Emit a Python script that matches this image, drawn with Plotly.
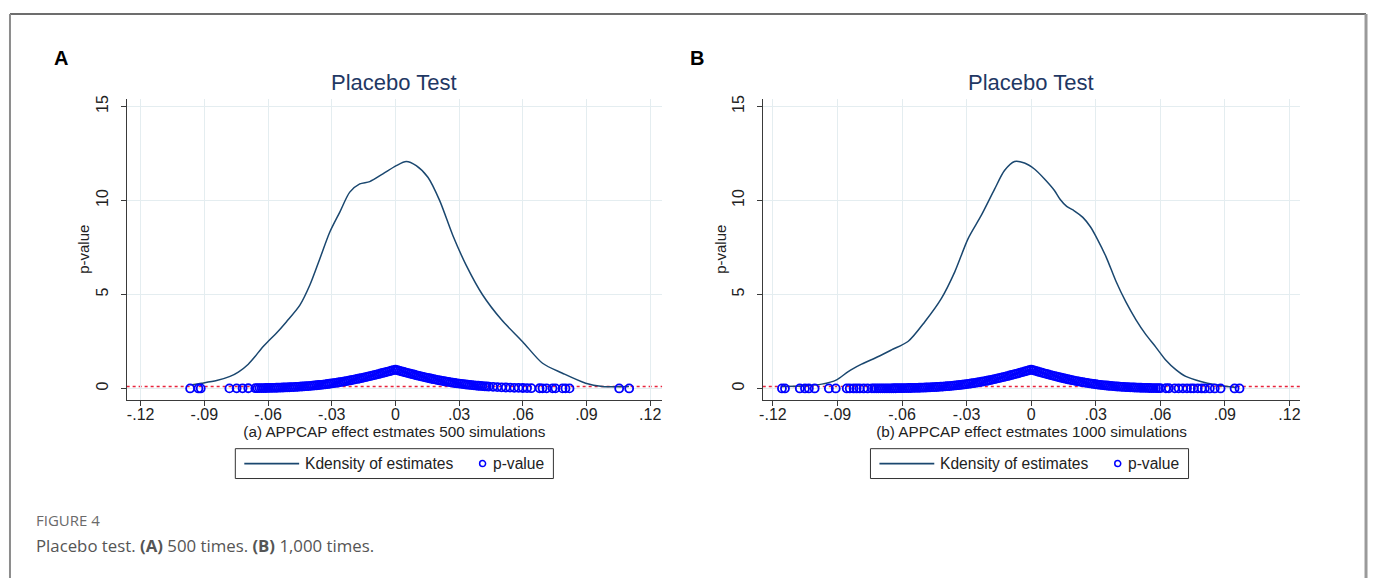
import plotly.graph_objects as go

W, H = 1373, 578

# ---- kernel density of placebo estimates ----
kd_x_a = [-0.0967, -0.0912, -0.0842, -0.0779, -0.0740, -0.0693, -0.0661, -0.0630,
          -0.0600, -0.0560, -0.0513, -0.0450, -0.0403, -0.0356, -0.0309, -0.0262,
          -0.0215, -0.0168, -0.0121, -0.0059, 0.0004, 0.0051, 0.0098, 0.0153,
          0.0208, 0.0270, 0.0333, 0.0411, 0.0500, 0.0599, 0.0693, 0.0787,
          0.0896, 0.0975, 0.1100]
kd_y_a = [0.19, 0.28, 0.42, 0.64, 0.87, 1.29, 1.70, 2.14,
          2.50, 2.95, 3.55, 4.43, 5.50, 6.90, 8.32, 9.38,
          10.44, 10.88, 11.00, 11.41, 11.85, 12.07, 11.85, 11.23,
          10.00, 8.15, 6.56, 4.97, 3.65, 2.49, 1.34, 0.81,
          0.28, 0.11, 0.10]

kd_x_b = [-0.1158, -0.1050, -0.0973, -0.0904, -0.0850, -0.0788, -0.0710, -0.0649,
          -0.0571, -0.0494, -0.0417, -0.0355, -0.0293, -0.0232, -0.0170, -0.0124,
          -0.0077, -0.0031, 0.0015, 0.0062, 0.0108, 0.0135, 0.0165, 0.0200,
          0.0240, 0.0275, 0.0305, 0.0348, 0.0394, 0.0440, 0.0487, 0.0533,
          0.0579, 0.0626, 0.0672, 0.0718, 0.0788, 0.0857, 0.0955]
kd_y_b = [0.10, 0.14, 0.23, 0.46, 0.90, 1.29, 1.70, 2.05,
          2.51, 3.55, 4.79, 6.20, 7.97, 9.20, 10.60, 11.59,
          12.07, 11.99, 11.67, 11.14, 10.53, 10.05, 9.68, 9.45,
          9.10, 8.60, 8.00, 7.00, 5.70, 4.60, 3.65, 2.86,
          2.20, 1.50, 1.00, 0.64, 0.37, 0.20, 0.05]

# ---- placebo estimates and their p-values: (a) 500 simulations ----
est_a = [
    -0.0967, -0.0928, -0.0917, -0.0782, -0.0748, -0.0720, -0.0693,
    -0.066, -0.065, -0.064, -0.063, -0.062, -0.061, -0.060, -0.059, -0.058, -0.057,
    -0.056, -0.055, -0.054, -0.053, -0.052, -0.051, -0.050, -0.049, -0.048, -0.047,
    -0.046, -0.045, -0.044, -0.043, -0.042, -0.041, -0.040, -0.039, -0.038, -0.037,
    -0.036, -0.035, -0.034, -0.033, -0.032, -0.031, -0.030, -0.029, -0.028, -0.027,
    -0.026, -0.025, -0.024, -0.023, -0.022, -0.021, -0.020, -0.019, -0.018, -0.017,
    -0.016, -0.015, -0.014, -0.013, -0.012, -0.011, -0.010, -0.009, -0.008, -0.007,
    -0.006, -0.005, -0.004, -0.003, -0.002, -0.001, 0.000,
    0.001, 0.002, 0.003, 0.004, 0.005, 0.006, 0.007, 0.008, 0.009, 0.010,
    0.011, 0.012, 0.013, 0.014, 0.015, 0.016, 0.017, 0.018, 0.019, 0.020,
    0.021, 0.022, 0.023, 0.024, 0.025, 0.026, 0.027, 0.028, 0.029, 0.030,
    0.031, 0.032, 0.033, 0.034, 0.035, 0.036, 0.037, 0.038, 0.039, 0.040,
    0.041, 0.042, 0.043, 0.044,
    0.046, 0.048, 0.050, 0.052, 0.054, 0.056, 0.058, 0.060, 0.062, 0.064,
    0.0679, 0.0693, 0.0712, 0.0740, 0.0754, 0.0787, 0.0801, 0.0820, 0.1054, 0.1101]
pval_a = [
    0.0002, 0.0005, 0.0006, 0.004, 0.006, 0.007, 0.010,
    0.015, 0.016, 0.018, 0.020, 0.022, 0.024, 0.026, 0.029, 0.032, 0.035,
    0.038, 0.042, 0.046, 0.050, 0.054, 0.059, 0.064, 0.070, 0.075, 0.082,
    0.088, 0.096, 0.103, 0.111, 0.120, 0.129, 0.139, 0.149, 0.159, 0.171,
    0.183, 0.195, 0.208, 0.222, 0.236, 0.251, 0.266, 0.283, 0.300, 0.317,
    0.336, 0.354, 0.374, 0.394, 0.415, 0.437, 0.459, 0.482, 0.505, 0.529,
    0.553, 0.578, 0.604, 0.630, 0.657, 0.684, 0.711, 0.739, 0.767, 0.795,
    0.824, 0.853, 0.882, 0.912, 0.941, 0.970, 1.000,
    0.968, 0.937, 0.906, 0.875, 0.845, 0.815, 0.786, 0.757, 0.728, 0.700,
    0.672, 0.645, 0.618, 0.592, 0.567, 0.542, 0.517, 0.494, 0.470, 0.448,
    0.426, 0.404, 0.384, 0.364, 0.345, 0.326, 0.308, 0.291, 0.275, 0.259,
    0.244, 0.229, 0.215, 0.202, 0.189, 0.177, 0.165, 0.154, 0.144, 0.134,
    0.125, 0.116, 0.107, 0.099,
    0.085, 0.072, 0.061, 0.051, 0.043, 0.036, 0.030, 0.024, 0.020, 0.016,
    0.010, 0.009, 0.008, 0.006, 0.005, 0.004, 0.003, 0.003, 0.0003, 0.0002]

# ---- placebo estimates and their p-values: (b) 1000 simulations ----
est_b = [
    -0.1158, -0.1144, -0.1075, -0.1051, -0.1033, -0.1006, -0.0940, -0.0908,
    -0.0857, -0.0843, -0.0825, -0.0811, -0.0797, -0.0778, -0.0760,
    -0.074, -0.073, -0.072, -0.071, -0.070, -0.069, -0.068, -0.067, -0.066, -0.065,
    -0.064, -0.063, -0.062, -0.061, -0.060, -0.059, -0.058, -0.057, -0.056, -0.055,
    -0.054, -0.053, -0.052, -0.051, -0.050, -0.049, -0.048, -0.047, -0.046, -0.045,
    -0.044, -0.043, -0.042, -0.041, -0.040, -0.039, -0.038, -0.037, -0.036, -0.035,
    -0.034, -0.033,
    -0.032, -0.031, -0.030, -0.029, -0.028, -0.027, -0.026, -0.025, -0.024, -0.023,
    -0.022, -0.021, -0.020, -0.019, -0.018, -0.017, -0.016, -0.015, -0.014, -0.013,
    -0.012, -0.011, -0.010, -0.009, -0.008, -0.007, -0.006, -0.005, -0.004, -0.003,
    -0.002, -0.001, 0.000,
    0.001, 0.002, 0.003, 0.004, 0.005, 0.006, 0.007, 0.008, 0.009, 0.010,
    0.011, 0.012, 0.013, 0.014, 0.015, 0.016, 0.017, 0.018, 0.019, 0.020,
    0.021, 0.022, 0.023, 0.024, 0.025, 0.026, 0.027, 0.028, 0.029, 0.030,
    0.031, 0.032,
    0.033, 0.034, 0.035, 0.036, 0.037, 0.038, 0.039, 0.040, 0.041, 0.042,
    0.043, 0.044, 0.045, 0.046, 0.047, 0.048, 0.049, 0.050, 0.051, 0.052,
    0.053, 0.054, 0.055, 0.056, 0.057, 0.058, 0.059, 0.060,
    0.0626, 0.0640, 0.0667, 0.0685, 0.0705, 0.0724, 0.0742, 0.0755,
    0.0774, 0.0792, 0.0807, 0.0830, 0.0853, 0.0880, 0.0945, 0.0968]
pval_b = [
    0.0000, 0.0000, 0.0000, 0.0000, 0.0001, 0.0001, 0.0002, 0.0003,
    0.0006, 0.0007, 0.0010, 0.0012, 0.0014, 0.0018, 0.0024,
    0.003, 0.0035, 0.004, 0.0045, 0.005, 0.006, 0.0065, 0.007, 0.008, 0.009,
    0.010, 0.012, 0.013, 0.015, 0.016, 0.018, 0.020, 0.023, 0.025, 0.028,
    0.031, 0.034, 0.038, 0.041, 0.046, 0.050, 0.055, 0.060, 0.066, 0.072,
    0.078, 0.085, 0.093, 0.101, 0.110, 0.119, 0.129, 0.139, 0.150, 0.162,
    0.174, 0.187,
    0.201, 0.215, 0.230, 0.246, 0.263, 0.280, 0.298, 0.317, 0.337, 0.358,
    0.379, 0.401, 0.424, 0.447, 0.472, 0.497, 0.522, 0.549, 0.575, 0.603,
    0.631, 0.660, 0.689, 0.719, 0.749, 0.779, 0.810, 0.841, 0.873, 0.904,
    0.936, 0.968, 1.000,
    0.967, 0.935, 0.902, 0.870, 0.838, 0.806, 0.775, 0.744, 0.714, 0.684,
    0.655, 0.626, 0.597, 0.569, 0.542, 0.516, 0.490, 0.465, 0.441, 0.417,
    0.394, 0.372, 0.351, 0.331, 0.311, 0.292, 0.274, 0.257, 0.240, 0.224,
    0.209, 0.195,
    0.181, 0.168, 0.156, 0.144, 0.133, 0.123, 0.113, 0.104, 0.096, 0.088,
    0.081, 0.074, 0.068, 0.062, 0.056, 0.051, 0.046, 0.042, 0.038, 0.034,
    0.031, 0.028, 0.025, 0.022, 0.020, 0.018, 0.016, 0.014,
    0.012, 0.011, 0.009, 0.007, 0.006, 0.005, 0.004, 0.003,
    0.003, 0.002, 0.002, 0.001, 0.001, 0.001, 0.0001, 0.0001]

assert len(est_a) == len(pval_a) and len(est_b) == len(pval_b)

x_ticks = [-0.12, -0.09, -0.06, -0.03, 0, 0.03, 0.06, 0.09, 0.12]
x_tick_text = ["-.12", "-.09", "-.06", "-.03", "0", ".03", ".06", ".09", ".12"]
y_ticks = [0, 5, 10, 15]
y_tick_text = ["0", "5", "10", "15"]

panel_titles = ["Placebo Test", "Placebo Test"]
x_titles = ["(a) APPCAP effect estmates 500 simulations",
            "(b) APPCAP effect estmates 1000 simulations"]
legend_labels = ["Kdensity of estimates", "p-value"]
sig_level = 0.1

NAVY = "#1a476f"
BLUE = "#0000ff"
GRID = "#e4edf0"
AXIS = "#3a3a3a"
FONT = "Liberation Sans, Arial, sans-serif"


def fx(p):
    return p / W


def fy(p):
    return 1 - p / H


fig = go.Figure()

panels = [
    dict(kx=kd_x_a, ky=kd_y_a, ex=est_a, ev=pval_a, xa="x", ya="y"),
    dict(kx=kd_x_b, ky=kd_y_b, ex=est_b, ev=pval_b, xa="x2", ya="y2"),
]
for p in panels:
    fig.add_trace(go.Scatter(
        x=p["kx"], y=p["ky"], mode="lines", name=legend_labels[0],
        line=dict(color=NAVY, width=1.5, shape="spline", smoothing=0.8),
        xaxis=p["xa"], yaxis=p["ya"], showlegend=False))
    fig.add_trace(go.Scatter(
        x=p["ex"], y=p["ev"], mode="markers", name=legend_labels[1],
        marker=dict(symbol="circle-open", size=8, color=BLUE,
                    line=dict(width=1.8, color=BLUE)),
        xaxis=p["xa"], yaxis=p["ya"], showlegend=False))

ydom = [fy(399), fy(96)]
axis_common = dict(
    showline=True, linecolor=AXIS, linewidth=1.2,
    ticks="outside", ticklen=5, tickwidth=1.2, tickcolor=AXIS,
    showgrid=True, gridcolor=GRID, gridwidth=1, zeroline=False,
    tickfont=dict(family=FONT, size=16, color="#222"),
)

layout_axes = {}
for i, (x0, x1, xr) in enumerate([(123, 660, [-0.1266, 0.1256]),
                                   (761, 1300, [-0.1247, 0.1250])]):
    sfx = "" if i == 0 else "2"
    layout_axes["xaxis" + sfx] = dict(
        axis_common, domain=[fx(x0), fx(x1)], range=xr,
        tickvals=x_ticks, ticktext=x_tick_text, ticklabelstandoff=-5,
        anchor="y" + sfx,
        title=dict(text=x_titles[i], font=dict(family=FONT, size=15.3, color="#222"),
                   standoff=0))
    layout_axes["yaxis" + sfx] = dict(
        axis_common, domain=ydom, range=[-0.61, 15.42],
        tickvals=y_ticks, ticktext=y_tick_text, tickangle=-90,
        ticklabelstandoff=6, anchor="x" + sfx,
        title=dict(text="p-value", font=dict(family=FONT, size=15, color="#222"),
                   standoff=0))

fig.update_layout(**layout_axes)

shapes = []
annotations = []

# significance reference line
for sfx in ["", "2"]:
    shapes.append(dict(type="line", xref=("x" + sfx + " domain"), yref="y" + sfx,
                       x0=0, x1=1, y0=sig_level, y1=sig_level,
                       line=dict(color="#e8243c", width=1.5, dash="3px,3px"),
                       layer="below"))

# legend boxes under each panel
for off in [0, 637]:
    shapes.append(dict(type="rect", xref="paper", yref="paper",
                       x0=fx(232 + off), x1=fx(551 + off), y0=fy(448), y1=fy(478),
                       line=dict(color="#333", width=1), fillcolor="white"))
    shapes.append(dict(type="line", xref="paper", yref="paper",
                       x0=fx(241 + off), x1=fx(296 + off), y0=fy(463), y1=fy(463),
                       line=dict(color=NAVY, width=1.6)))
    shapes.append(dict(type="circle", xref="paper", yref="paper",
                       x0=fx(477 + off), x1=fx(483 + off), y0=fy(460), y1=fy(466),
                       line=dict(color=BLUE, width=1.5)))
    annotations.append(dict(xref="paper", yref="paper", x=fx(300 + off), y=fy(463),
                            text=legend_labels[0], showarrow=False,
                            xanchor="left", yanchor="middle",
                            font=dict(family=FONT, size=15.6, color="#222")))
    annotations.append(dict(xref="paper", yref="paper", x=fx(488 + off), y=fy(463),
                            text=legend_labels[1], showarrow=False,
                            xanchor="left", yanchor="middle",
                            font=dict(family=FONT, size=15.6, color="#222")))

# outer frame of the figure
shapes += [
    dict(type="line", xref="paper", yref="paper", x0=fx(6), x1=fx(1366),
         y0=fy(11), y1=fy(11), line=dict(color="#3c3c3c", width=1.5)),
    dict(type="line", xref="paper", yref="paper", x0=fx(6), x1=fx(6),
         y0=fy(11), y1=0, line=dict(color="#8c8c8c", width=2)),
    dict(type="line", xref="paper", yref="paper", x0=fx(1366), x1=fx(1366),
         y0=fy(11), y1=0, line=dict(color="#9a9a9a", width=3)),
]

for cx, t in zip([391.5, 1030.5], panel_titles):
    annotations.append(dict(xref="paper", yref="paper", x=fx(cx), y=fy(80),
                            text=t, showarrow=False, xanchor="center", yanchor="middle",
                            font=dict(family=FONT, size=22, color="#1f3864")))
for lx, t in zip([48, 686], ["A", "B"]):
    annotations.append(dict(xref="paper", yref="paper", x=fx(lx), y=fy(55),
                            text="<b>" + t + "</b>", showarrow=False,
                            xanchor="left", yanchor="middle",
                            font=dict(family=FONT, size=20, color="#000")))
annotations.append(dict(xref="paper", yref="paper", x=fx(30), y=fy(520),
                        text="FIGURE 4", showarrow=False, xanchor="left",
                        yanchor="middle",
                        font=dict(family="Open Sans, sans-serif", size=15, color="#6a6a6a")))
annotations.append(dict(xref="paper", yref="paper", x=fx(30), y=fy(545),
                        text="Placebo test. <b>(A)</b> 500 times. <b>(B)</b> 1,000 times.",
                        showarrow=False, xanchor="left", yanchor="middle",
                        font=dict(family="Open Sans, sans-serif", size=16.8, color="#555")))

fig.update_layout(
    width=W, height=H,
    margin=dict(l=0, r=0, t=0, b=0),
    paper_bgcolor="white", plot_bgcolor="white",
    showlegend=False,
    shapes=shapes,
    annotations=annotations,
)

fig.write_html("out.html")
